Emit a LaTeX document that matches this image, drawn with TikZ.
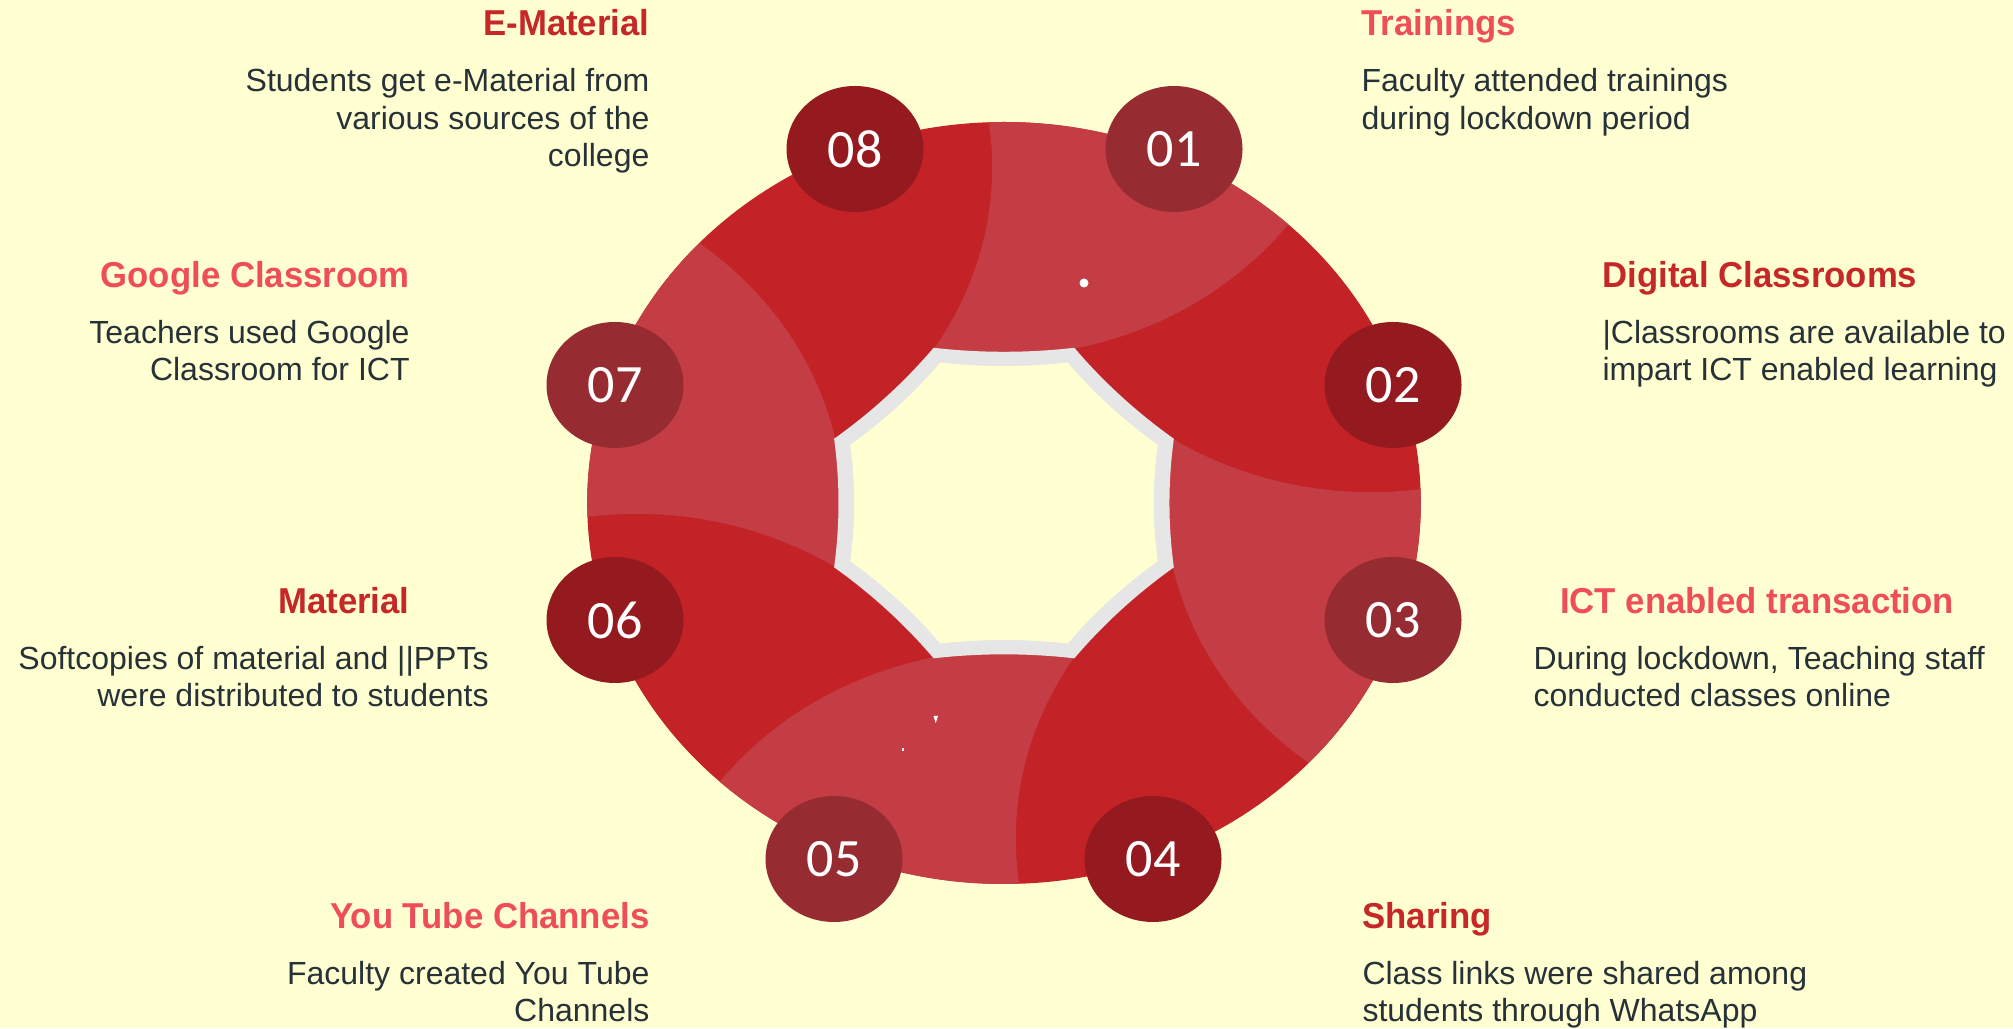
\documentclass[tikz,border=0pt]{standalone}
\usepackage{fontspec}
\setmainfont{Liberation Sans}
\newfontfamily\numfont{Carlito}
\newfontfamily\headfont[FakeStretch=0.965]{Liberation Sans}
\usetikzlibrary{shapes.geometric}
\definecolor{bgyellow}{HTML}{FFFFD1}
\definecolor{segred}{HTML}{C32227}
\definecolor{seglight}{HTML}{C43D45}
\definecolor{blobmuted}{HTML}{962B32}
\definecolor{blobdark}{HTML}{951A1F}
\definecolor{holegrey}{HTML}{E6E6E6}
\definecolor{headred}{HTML}{C62828}
\definecolor{headpink}{HTML}{F04D5A}
\definecolor{bodyslate}{HTML}{263238}
\def\petal[#1]{\fill[#1] (92:381) arc[start angle=92, end angle=47, radius=381] arc[start angle=-37.32, end angle=-77.73, radius=335] arc[start angle=-82.88, end angle=-97.12, radius=518.9] arc[start angle=-32.73, end angle=7.68, radius=335] -- cycle;}
\def\octhole[#1]{\fill[#1] (67.5:168) \foreach \j [evaluate=\j as \sa using -82.88+45*\j, evaluate=\j as \ea using -97.12+45*\j] in {0,...,7} {arc[start angle=\sa, end angle=\ea, radius=518.9]} -- cycle;}
\tikzset{
	heading/.style={font=\headfont\bfseries\fontsize{36}{40}\selectfont, inner sep=0pt},
	blurb/.style={font=\fontsize{32}{37.5}\selectfont, text=bodyslate, inner sep=0pt},
	numblob/.style={ellipse, minimum width=137pt, minimum height=126pt, inner sep=0pt, text=white, font=\numfont\fontsize{54}{54}\selectfont}
}
\begin{document}
\begin{tikzpicture}[x=1pt,y=1pt]
				\fill[bgyellow] (0,0) rectangle (2013,1028);
				\useasboundingbox (0,0) rectangle (2013,1028);
				
				% ring
				\begin{scope}[shift={(1004,525)}, xscale=1.094]
					\fill[segred] (0,0) circle (381);
					\petal[seglight];
					\petal[seglight, rotate=-90];
					\petal[seglight, rotate=-180];
					\petal[seglight, rotate=-270];
					\octhole[holegrey];
					\octhole[bgyellow, scale=0.905];
				\end{scope}
				\fill[white] (1084,745) circle (4.5);
				\fill[white] (933.5,312) -- (938,312) -- (935.7,305) -- cycle;
				\fill[white] (902,277) rectangle (904,280);
				
				% numbers
				\node[numblob, fill=blobmuted] (n01) at (1174,879) {01};
				\node[numblob, fill=blobdark] (n02) at (1393,643) {02};
				\node[numblob, fill=blobmuted] (n03) at (1393,408) {03};
				\node[numblob, fill=blobdark] (n04) at (1153,169) {04};
				\node[numblob, fill=blobmuted] (n05) at (834,169) {05};
				\node[numblob, fill=blobdark] (n06) at (615,408) {06};
				\node[numblob, fill=blobmuted] (n07) at (615,643) {07};
				\node[numblob, fill=blobdark] (n08) at (855,879) {08};
				
				% texts (base = last line)
				\node[heading, text=headred, anchor=base east] (ematHead) at (649.6,992) {E-Material};
				\node[blurb, align=right, anchor=base east] (ematText) at (649.6,861.3) {Students get e-Material from\\various sources of the\\college};
				
				\node[heading, text=headpink, anchor=base west] (trainHead) at (1361.4,992) {Trainings};
				\node[blurb, align=left, anchor=base west] (trainText) at (1361.4,898.7) {Faculty attended trainings\\during lockdown period};
				
				\node[heading, text=headpink, anchor=base east] (googHead) at (409.8,740.7) {Google Classroom};
				\node[blurb, align=right, anchor=base east] (googText) at (409.8,647) {Teachers used Google\\Classroom for ICT};
				
				\node[heading, text=headred, anchor=base west] (digiHead) at (1602.4,740.7) {Digital Classrooms};
				\node[blurb, align=left, anchor=base west] (digiText) at (1602.4,647) {|Classrooms are available to\\impart ICT enabled learning};
				
				\node[heading, text=headred, anchor=base east] (matHead) at (409.8,414.7) {Material};
				\node[blurb, align=right, anchor=base east] (matText) at (488.8,321.3) {Softcopies of material and ||PPTs\\were distributed to students};
				
				\node[heading, text=headpink, anchor=base west] (ictHead) at (1560,414.7) {ICT enabled transaction};
				\node[blurb, align=left, anchor=base west] (ictText) at (1533.3,321.3) {During lockdown, Teaching staff\\conducted classes online};
				
				\node[heading, text=headpink, anchor=base east] (tubeHead) at (649.6,99.7) {You Tube Channels};
				\node[blurb, align=right, anchor=base east] (tubeText) at (649.6,6.3) {Faculty created You Tube\\Channels};
				
				\node[heading, text=headred, anchor=base west] (shareHead) at (1362.3,99.7) {Sharing};
				\node[blurb, align=left, anchor=base west] (shareText) at (1362.3,6.3) {Class links were shared among\\students through WhatsApp};
			\end{tikzpicture}
\end{document}
